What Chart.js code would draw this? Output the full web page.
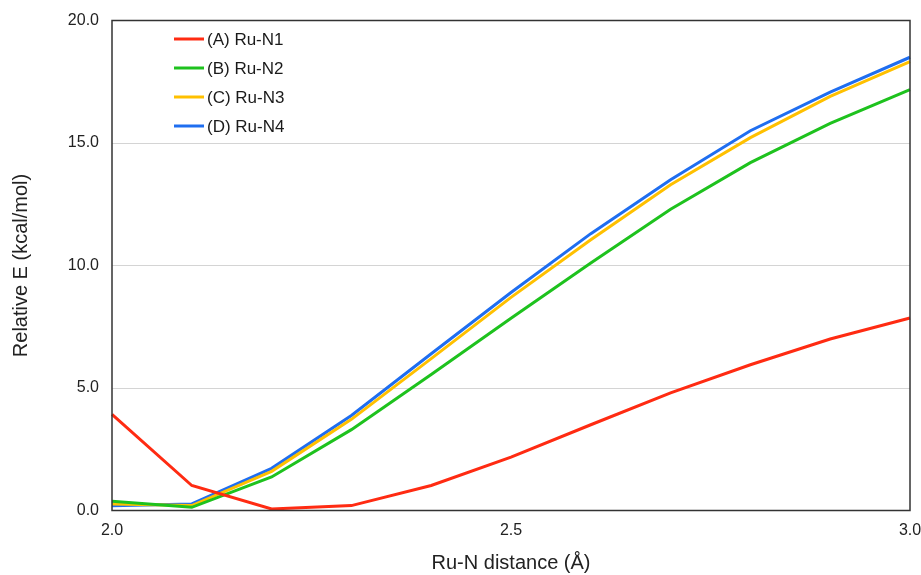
<!DOCTYPE html>
<html><head><meta charset="utf-8">
<script src="https://cdn.jsdelivr.net/npm/chart.js@4.4.0/dist/chart.umd.min.js"></script>
<style>html,body{margin:0;padding:0;background:#fff;}#wrap{width:921px;height:575px;position:relative;}</style>
</head><body><div id="wrap"><canvas id="c"></canvas></div>
<script>
const distances = [2.0, 2.1, 2.2, 2.3, 2.4, 2.5, 2.6, 2.7, 2.8, 2.9, 3.0];
const seriesA = [3.92, 1.02, 0.06, 0.2, 1.02, 2.18, 3.5, 4.8, 5.95, 7.0, 7.86];
const seriesB = [0.38, 0.13, 1.37, 3.3, 5.55, 7.85, 10.1, 12.3, 14.2, 15.8, 17.18];
const seriesC = [0.27, 0.2, 1.6, 3.72, 6.2, 8.7, 11.05, 13.3, 15.22, 16.9, 18.32];
const seriesD = [0.19, 0.27, 1.72, 3.88, 6.4, 8.9, 11.3, 13.5, 15.5, 17.08, 18.5];
const seriesNames = ['(A) Ru-N1', '(B) Ru-N2', '(C) Ru-N3', '(D) Ru-N4'];
const seriesColors = ['#FF2B12', '#1EC21E', '#FFC000', '#1F6EF0'];
const yTicks = [0, 5, 10, 15, 20];
const xTicks = [2.0, 2.5, 3.0];

const FONT = '"Liberation Sans", Arial, sans-serif';
const allSeries = [seriesA, seriesB, seriesC, seriesD];
const datasets = allSeries.map((s, i) => ({
  label: seriesNames[i],
  data: s.map((v, j) => ({x: distances[j], y: v})),
  borderColor: seriesColors[i],
  backgroundColor: seriesColors[i],
  borderWidth: 3,
  pointRadius: 0,
  tension: 0,
  clip: 6
}));

const framePlugin = {
  id: 'frame',
  afterDatasetsDraw(chart) {
    const {ctx, chartArea: a} = chart;
    ctx.save();
    ctx.strokeStyle = '#333333';
    ctx.lineWidth = 1.5;
    ctx.strokeRect(a.left, a.top, a.right - a.left, a.bottom - a.top);
    ctx.restore();
  }
};
const legendPlugin = {
  id: 'insideLegend',
  afterDraw(chart) {
    const ctx = chart.ctx;
    ctx.save();
    chart.data.datasets.forEach((ds, i) => {
      const y = 39 + i * 29;
      ctx.strokeStyle = ds.borderColor;
      ctx.lineWidth = 3;
      ctx.beginPath(); ctx.moveTo(174, y); ctx.lineTo(204, y); ctx.stroke();
      ctx.fillStyle = '#1a1a1a';
      ctx.font = '17px ' + FONT;
      ctx.textBaseline = 'middle';
      ctx.textAlign = 'left';
      ctx.fillText(ds.label, 207, y + 1);
    });
    ctx.restore();
  }
};

new Chart(document.getElementById('c'), {
  type: 'line',
  data: {datasets},
  plugins: [framePlugin, legendPlugin],
  options: {
    responsive: true,
    maintainAspectRatio: false,
    animation: false,
    devicePixelRatio: 1,
    layout: {padding: {top: 20.5, right: 11, left: 0, bottom: 0}},
    plugins: {legend: {display: false}, tooltip: {enabled: false}},
    scales: {
      x: {
        type: 'linear', min: 2, max: 3,
        afterFit: s => { s.height = 64.5; s.paddingRight = 0; s.paddingLeft = 0; },
        afterBuildTicks: s => { s.ticks = xTicks.map(v => ({value: v})); },
        grid: {display: false, drawTicks: false},
        border: {display: false},
        ticks: {padding: 10, maxRotation: 0, autoSkip: false, color: '#222',
          font: {family: FONT, size: 16}, callback: v => Number(v).toFixed(1)},
        title: {display: true, text: 'Ru-N distance (Å)', color: '#222',
          font: {family: FONT, size: 20}, padding: {top: 0, bottom: 0}}
      },
      y: {
        min: 0, max: 20,
        afterFit: s => { s.width = 112; s.paddingTop = 0; s.paddingBottom = 0; },
        afterBuildTicks: s => { s.ticks = yTicks.map(v => ({value: v})); },
        grid: {drawTicks: false, color: '#d4d4d4', lineWidth: 1},
        border: {display: false},
        ticks: {padding: 13, color: '#222', font: {family: FONT, size: 16},
          callback: v => Number(v).toFixed(1)},
        title: {display: true, text: 'Relative E (kcal/mol)', color: '#222',
          font: {family: FONT, size: 20}, padding: {top: 9, bottom: 0}}
      }
    }
  }
});
</script>
</body></html>
